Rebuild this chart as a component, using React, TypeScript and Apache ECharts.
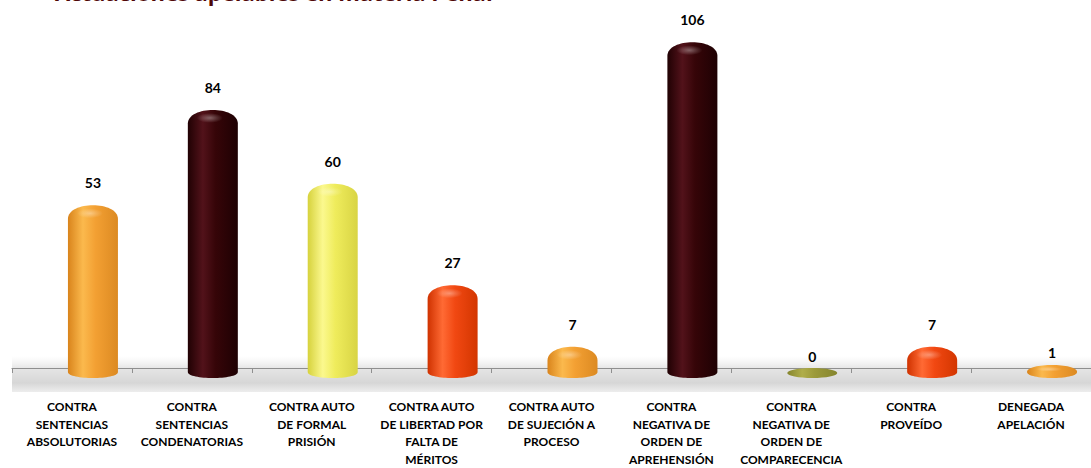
import React, { useEffect, useRef } from "react";
import * as echarts from "echarts";

const TITLE = "Actuaciones apelables en materia Penal";

const categories = [
  "CONTRA\nSENTENCIAS\nABSOLUTORIAS",
  "CONTRA\nSENTENCIAS\nCONDENATORIAS",
  "CONTRA AUTO\nDE FORMAL\nPRISIÓN",
  "CONTRA AUTO\nDE LIBERTAD POR\nFALTA DE\nMÉRITOS",
  "CONTRA AUTO\nDE SUJECIÓN A\nPROCESO",
  "CONTRA\nNEGATIVA DE\nORDEN DE\nAPREHENSIÓN",
  "CONTRA\nNEGATIVA DE\nORDEN DE\nCOMPARECENCIA",
  "CONTRA\nPROVEÍDO",
  "DENEGADA\nAPELACIÓN",
];

const values = [53, 84, 60, 27, 7, 106, 0, 7, 1];

// [dark edge, light, base, dark right]
const ORANGE = ["#d9841c", "#fbb94d", "#f3a033", "#dc8a22"];
const MAROON = ["#200103", "#52121a", "#360508", "#1e0103"];
const YELLOW = ["#d6d23c", "#fbf88e", "#efec5c", "#d8d444"];
const RED = ["#cf3200", "#ff6a34", "#f14812", "#d33600"];
const OLIVE = ["#85852e", "#b0ae4a", "#9c9a3a", "#85852e"];
const palette = [ORANGE, MAROON, YELLOW, RED, ORANGE, MAROON, OLIVE, RED, ORANGE];

const BAR_SHIFT = 21;
const BAR_W = 50;

export default function App() {
  const ref = useRef<HTMLDivElement>(null);
  useEffect(() => {
    if (!ref.current) return;
    const chart = echarts.init(ref.current, undefined, { renderer: "svg" });
    const grad = (c: string[]) => ({
      type: "linear",
      x: 0,
      y: 0,
      x2: 1,
      y2: 0,
      colorStops: [
        { offset: 0, color: c[0] },
        { offset: 0.3, color: c[1] },
        { offset: 0.55, color: c[2] },
        { offset: 1, color: c[3] },
      ],
    });
    const option: any = {
      animation: false,
      backgroundColor: "#ffffff",
      grid: { left: 12, right: -5.5, top: 0, bottom: 96, containLabel: false },
      xAxis: {
        type: "category",
        data: categories,
        offset: 21,
        axisLine: { lineStyle: { color: "#8f8f8f", width: 1.2 } },
        axisTick: { show: true, length: 5, lineStyle: { color: "#8f8f8f" } },
        axisLabel: {
          interval: 0,
          margin: 9,
          color: "#000",
          fontFamily: "Lato",
          fontWeight: "bold",
          fontSize: 12,
          lineHeight: 17.5,
          align: "center",
        },
      },
      yAxis: {
        type: "value",
        min: 0,
        max: 119.6,
        show: false,
        splitLine: { show: false },
      },
      graphic: [
        {
          type: "rect",
          z: 0,
          shape: { x: 12, y: 356, width: 1085, height: 36 },
          style: {
            fill: {
              type: "linear",
              x: 0,
              y: 0,
              x2: 0,
              y2: 1,
              colorStops: [
                { offset: 0, color: "rgba(235,235,235,0)" },
                { offset: 0.35, color: "rgba(222,222,222,0.8)" },
                { offset: 0.75, color: "rgba(212,212,212,0.95)" },
                { offset: 1, color: "rgba(232,232,232,0.8)" },
              ],
            },
          },
        },
        {
          type: "text",
          left: 55,
          top: -19,
          z: 10,
          style: {
            text: TITLE,
            fill: "#4f0707",
            font: "bold 22px 'Open Sans'",
          },
        },
      ],
      series: [
        {
          type: "custom",
          z: 5,
          data: values.map((v, i) => [i, v]),
          renderItem: (params: any, api: any) => {
            const i = api.value(0);
            const v = api.value(1);
            const p0 = api.coord([i, 0]);
            const p1 = api.coord([i, v]);
            const cx = p0[0] + BAR_SHIFT;
            const L = cx - BAR_W / 2;
            const R = cx + BAR_W / 2;
            const base = p0[1] + 4;
            const top = p1[1];
            const c = palette[i];
            const children: any[] = [];
            if (v <= 0) {
              children.push({
                type: "ellipse",
                shape: { cx, cy: base + 1, rx: BAR_W / 2, ry: 5 },
                style: { fill: grad(c) },
              });
            } else {
              const h = base - top;
              const ch = Math.min(14, h);
              const e = 8;
              const d =
                `M${L},${base} L${L},${top + ch} ` +
                `C${L},${top - 0.3 * ch} ${R},${top - 0.3 * ch} ${R},${top + ch} ` +
                `L${R},${base} C${R},${base + e} ${L},${base + e} ${L},${base} Z`;
              children.push({
                type: "path",
                shape: { pathData: d },
                style: { fill: grad(c) },
              });
              children.push({
                type: "ellipse",
                shape: { cx: cx - 3, cy: top + Math.min(9, ch * 0.6), rx: 13, ry: Math.min(5, ch * 0.35) },
                style: {
                  fill: {
                    type: "radial",
                    x: 0.5,
                    y: 0.5,
                    r: 0.5,
                    colorStops: [
                      { offset: 0, color: "rgba(255,255,255,0.35)" },
                      { offset: 1, color: "rgba(255,255,255,0)" },
                    ],
                  },
                },
              });
            }
            const labelTop = v <= 0 ? base - 4 : top;
            const gap = v <= 1 ? 12 : 22;
            children.push({
              type: "text",
              style: {
                text: String(v),
                x: cx,
                y: labelTop - gap,
                align: "center",
                verticalAlign: "middle",
                fill: "#000",
                font: "bold 14px Lato",
              },
            });
            return { type: "group", children };
          },
        },
      ],
    };
    chart.setOption(option);
    return () => chart.dispose();
  }, []);
  return (
    <div
      ref={ref}
      style={{ position: "fixed", left: 0, top: 0, width: 1091, height: 468 }}
    />
  );
}
